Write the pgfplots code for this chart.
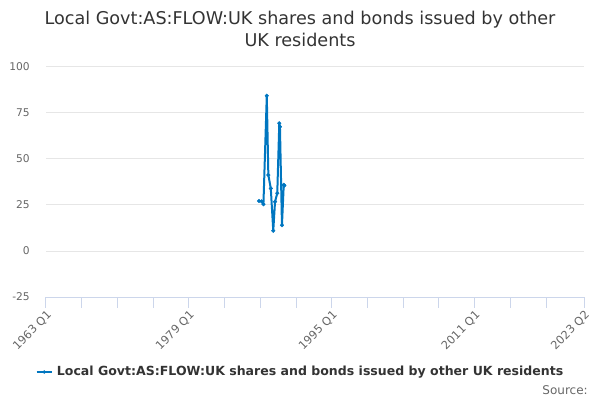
\documentclass[border=0pt]{standalone}
\usepackage{fontspec}
\setmainfont{DejaVu Sans}
\usepackage{pgfplots}
\pgfplotsset{compat=1.18}
\definecolor{series}{RGB}{0,118,192}
\definecolor{axisline}{RGB}{204,214,235}
\definecolor{gridc}{RGB}{230,230,230}
\definecolor{ticktext}{RGB}{102,102,102}
\definecolor{titletext}{RGB}{51,51,51}
\begin{document}
\begin{tikzpicture}[x=1pt,y=1pt]
\useasboundingbox (0,0) rectangle (450,300);
\begin{axis}[
    at={(34.5pt,111.75pt)}, anchor=origin,
    scale only axis,
    width=403.5pt, height=172.5pt,
    xmin=0, xmax=241,
    ymin=-25, ymax=100,
    ytick={-25,0,25,50,75,100},
    xtick={0,64,128,192,241},
    xticklabels={1963 Q1,1979 Q1,1995 Q1,2011 Q1,2023 Q2},
    minor xtick={16,32,48,80,96,112,144,160,176,208,224},
    axis x line*=bottom,
    axis y line*=left,
    x axis line style={color=axisline,-},
    y axis line style={draw=none},
    ymajorgrids=true,
    grid style={color=gridc, line width=0.75pt},
    major tick length=8pt,
    minor tick length=8pt,
    xtick style={color=axisline, line width=0.75pt},
    ytick style={draw=none},
    tick align=outside,
    x tick label style={rotate=45, anchor=north east, font=\fontsize{8.5}{10}\selectfont, color=ticktext, inner sep=1pt},
    y tick label style={font=\fontsize{8}{10}\selectfont, color=ticktext, anchor=east, inner sep=0pt},
    yticklabel style={xshift=-4pt},
    /pgf/number format/assume math mode=true,
    clip=false,
]
\addplot[color=series, line width=1.5pt, line join=round, mark=*, mark size=1.4pt, mark options={line width=0.3pt}]
    coordinates {
        (95.4,27.2)(96.6,27.0)(97.4,25.4)(98.9,84.4)(99.6,41.3)(100.7,34.0)
        (101.8,11.0)(102.6,26.8)(103.6,31.4)(104.5,69.4)(104.8,67.5)
        (105.7,14.0)(106.5,36.0)(106.8,35.5)
    };
\end{axis}
\node[font=\fontsize{13.2}{16.5}\selectfont, color=titletext, align=center] at (225,278)
    {Local Govt:AS:FLOW:UK shares and bonds issued by other\\UK residents};
\draw[color=series, line width=1.5pt] (27.5,21) -- (39,21);
\fill[color=series] (33.25,21) circle (1.4pt);
\node[font=\bfseries\fontsize{9.4}{12}\selectfont, color=titletext, anchor=west, inner sep=0pt] at (42.5,21)
    {Local Govt:AS:FLOW:UK shares and bonds issued by other UK residents};
\node[font=\fontsize{9}{11}\selectfont, color=ticktext, anchor=east, inner sep=0pt] at (441,7.5) {Source:};
\end{tikzpicture}
\end{document}
